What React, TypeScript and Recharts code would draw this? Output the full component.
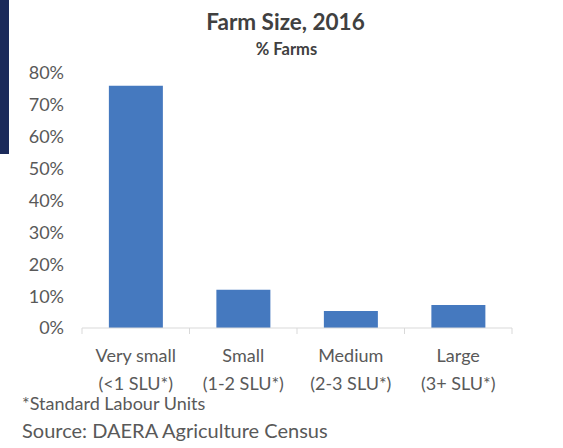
import { BarChart, Bar, XAxis, YAxis } from 'recharts'

const categories = ['Very small', 'Small', 'Medium', 'Large']
const subLabels = ['(<1 SLU*)', '(1-2 SLU*)', '(2-3 SLU*)', '(3+ SLU*)']
const shares = [0.76, 0.12, 0.053, 0.072]
const yTicks = [0, 0.1, 0.2, 0.3, 0.4, 0.5, 0.6, 0.7, 0.8]

const data = categories.map((name, i) => ({ name, sub: subLabels[i], value: shares[i] }))

const W = 563
const H = 448
const LEFT = 82
const RIGHT = 51
const HALF_BAND = (W - LEFT - RIGHT) / categories.length / 2
const FONT = 'Lato, "Open Sans", sans-serif'

const XTick = (props: any) => {
  const { x, y, payload, index } = props
  const row = data[index] || data.find((d) => d.name === payload.value)
  return (
    <g>
      <line x1={x - HALF_BAND} x2={x - HALF_BAND} y1={y - 8} y2={y - 2} stroke="#d9d9d9" />
      {index === categories.length - 1 && (
        <line x1={x + HALF_BAND} x2={x + HALF_BAND} y1={y - 8} y2={y - 2} stroke="#d9d9d9" />
      )}
      <text x={x} y={y} textAnchor="middle" fill="#595959" fontSize={18} fontFamily={FONT}>
        <tspan x={x} dy={26}>{payload.value}</tspan>
        <tspan x={x} dy={28}>{row ? row.sub : ''}</tspan>
      </text>
    </g>
  )
}

export default function App() {
  return (
    <div style={{ position: 'absolute', left: 0, top: 0, width: W, height: H, background: '#fff', fontFamily: FONT }}>
      <div style={{ position: 'absolute', left: 0, top: 0, width: 9, height: 154, background: '#1b2a5a' }} />
      <div style={{ position: 'absolute', left: 0, width: W, top: 8, textAlign: 'center', paddingLeft: 8, boxSizing: 'border-box', fontSize: 22.5, fontWeight: 700, color: '#404040' }}>
        Farm Size, 2016
      </div>
      <div style={{ position: 'absolute', left: 0, width: W, top: 39, textAlign: 'center', paddingLeft: 10, boxSizing: 'border-box', fontSize: 16.5, fontWeight: 700, color: '#404040' }}>
        % Farms
      </div>
      <BarChart
        width={W}
        height={H}
        data={data}
        margin={{ top: 73, right: RIGHT, bottom: 60, left: 0 }}
        barCategoryGap="25%"
        style={{ position: 'absolute', left: 0, top: 0 }}
      >
        <XAxis
          dataKey="name"
          axisLine={{ stroke: '#d9d9d9' }}
          tickLine={false}
          tick={<XTick />}
          interval={0}
          height={60}
        />
        <YAxis
          width={LEFT}
          domain={[0, 0.8]}
          ticks={yTicks}
          interval={0}
          axisLine={false}
          tickLine={false}
          tickMargin={12}
          tickFormatter={(v: number) => `${Math.round(v * 100)}%`}
          tick={{ fill: '#595959', fontSize: 18, fontFamily: FONT }}
        />
        <Bar dataKey="value" fill="#4579bf" isAnimationActive={false} />
      </BarChart>
      <div style={{ position: 'absolute', left: 22, top: 392, fontSize: 18, color: '#595959' }}>*Standard Labour Units</div>
      <div style={{ position: 'absolute', left: 22, top: 418, fontSize: 20, color: '#595959' }}>Source: DAERA Agriculture Census</div>
    </div>
  )
}
